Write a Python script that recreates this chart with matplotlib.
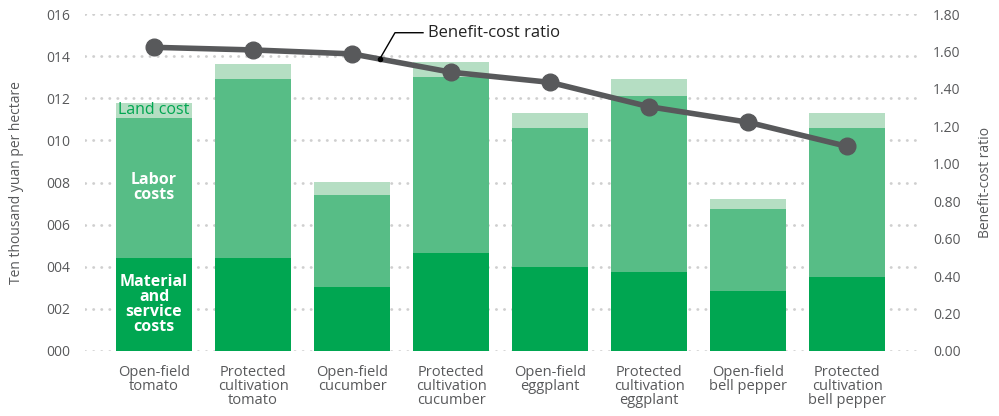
import matplotlib
matplotlib.use("Agg")
import matplotlib.pyplot as plt
import numpy as np
from matplotlib.ticker import FuncFormatter, MultipleLocator

plt.rcParams['font.family'] = ['Open Sans', 'DejaVu Sans']

categories = ["Open-field\ntomato", "Protected\ncultivation\ntomato",
              "Open-field\ncucumber", "Protected\ncultivation\ncucumber",
              "Open-field\neggplant", "Protected\ncultivation\neggplant",
              "Open-field\nbell pepper", "Protected\ncultivation\nbell pepper"]
material = [4.42, 4.41, 3.04, 4.65, 3.99, 3.75, 2.85, 3.51]
labor_top = [11.08, 12.92, 7.41, 13.01, 10.59, 12.11, 6.74, 10.59]
land_top = [11.76, 13.63, 8.02, 13.71, 11.30, 12.92, 7.22, 11.30]
bcr = [1.622, 1.608, 1.587, 1.489, 1.435, 1.305, 1.222, 1.093]

labor = [t - m for t, m in zip(labor_top, material)]
land = [t - l for t, l in zip(land_top, labor_top)]

C_MAT = "#00A651"
C_LAB = "#57BD86"
C_LAND = "#B5DEC3"
C_LINE = "#58595B"
C_TEXT = "#58595B"
C_GRID = "#CFCFCF"

W, H = 999, 416
fig = plt.figure(figsize=(W / 100, H / 100), dpi=100)
ax = fig.add_axes([85 / W, (H - 351) / H, (920 - 85) / W, 337 / H])
ax2 = ax.twinx()

x = np.arange(len(categories))
bw = 0.768
ax.bar(x, material, bw, color=C_MAT, zorder=2)
ax.bar(x, labor, bw, bottom=material, color=C_LAB, zorder=2)
ax.bar(x, land, bw, bottom=labor_top, color=C_LAND, zorder=2)

ax.set_xlim(-0.697, 7.737)
ax.set_ylim(0, 16)
ax2.set_ylim(0, 1.8)
ax.yaxis.set_major_locator(MultipleLocator(2))
ax2.yaxis.set_major_locator(MultipleLocator(0.2))
ax.yaxis.set_major_formatter(FuncFormatter(lambda v, p: f"{int(round(v)):03d}"))
ax2.yaxis.set_major_formatter(FuncFormatter(lambda v, p: f"{v:.2f}"))

for a in (ax, ax2):
    for s in a.spines.values():
        s.set_visible(False)
    a.tick_params(axis='both', length=0, labelsize=10, labelcolor=C_TEXT)
ax.tick_params(axis='y', pad=10.8)
ax2.tick_params(axis='y', pad=9.4)
ax.tick_params(axis='x', pad=10)

ax.set_xticks(x)
ax.set_xticklabels(categories, fontsize=10.5, color=C_TEXT, linespacing=0.92, va='top')

ax.grid(axis='y', color=C_GRID, linestyle=(0, (0.1, 2.8)), linewidth=2.0,
        dash_capstyle='round', zorder=0)
ax.set_axisbelow(True)

ax.set_ylabel("Ten thousand yuan per hectare", fontsize=10, color=C_TEXT, labelpad=15.5)
ax2.set_ylabel("Benefit-cost ratio", fontsize=10, color=C_TEXT, labelpad=12.5)

ax2.plot(x, bcr, color=C_LINE, linewidth=4.0, marker='o', markersize=12,
         solid_capstyle='butt', zorder=5)

# in-bar labels for first bar
ax.text(x[0], (labor_top[0] + land_top[0]) / 2, "Land cost", ha='center', va='center',
        fontsize=11.5, color=C_MAT, zorder=3)
ax.text(x[0], (material[0] + labor_top[0]) / 2, "Labor\ncosts", ha='center', va='center',
        fontsize=11.5, color='white', fontweight='bold', linespacing=0.95, zorder=3)
ax.text(x[0], material[0] / 2, "Material\nand\nservice\ncosts", ha='center', va='center',
        fontsize=11.5, color='white', fontweight='bold', linespacing=0.92, zorder=3)

# leader annotation
frac = 0.28
ax_x = x[2] + frac
ax_y = bcr[2] + frac * (bcr[3] - bcr[2])
ty = 1.70
ax2.plot([ax_x, 2.434, 2.717], [ax_y, ty, ty], color='black', linewidth=1.0, zorder=6)
ax2.plot([ax_x], [ax_y], 'o', color='black', markersize=3, zorder=6)
ax2.text(2.77, ty, "Benefit-cost ratio", ha='left', va='center', fontsize=12,
         color='#222222', zorder=6)

fig.savefig("out.png", dpi=100)
